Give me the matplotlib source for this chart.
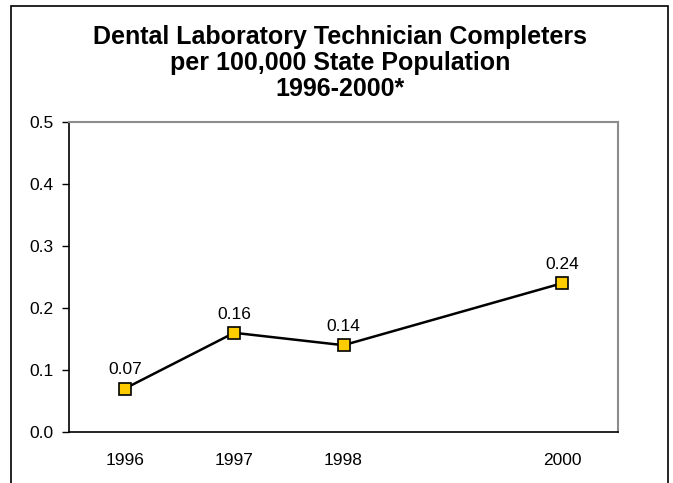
import matplotlib.pyplot as plt
from matplotlib.patches import Rectangle

years = [1996, 1997, 1998, 2000]
values = [0.07, 0.16, 0.14, 0.24]
value_labels = ["0.07", "0.16", "0.14", "0.24"]
y_ticks = [0.0, 0.1, 0.2, 0.3, 0.4, 0.5]

plt.rcParams['font.family'] = ['Liberation Sans', 'DejaVu Sans']

fig = plt.figure(figsize=(6.73, 4.83), dpi=100)
ax = fig.add_axes([69 / 673, 51 / 483, 549 / 673, 310 / 483])

# outer chart border (bottom edge runs off the picture)
fig.patches.append(Rectangle((11 / 673, -0.05), 657 / 673, (477 / 483) + 0.05,
                             transform=fig.transFigure, fill=False,
                             edgecolor='black', linewidth=1.2))

ax.plot(years, values, color='black', linewidth=1.8, marker='s', markersize=8,
        markerfacecolor='#FFCC00', markeredgecolor='black', markeredgewidth=1.2)

for x, y, lab in zip(years, values, value_labels):
    ax.annotate(lab, (x, y), xytext=(0, 8), textcoords='offset points',
                ha='center', va='bottom', fontsize=12.5)

ax.set_xlim(1995.49, 2000.51)
ax.set_ylim(0, 0.5)
ax.set_xticks(years)
ax.set_xticklabels([str(y) for y in years], fontsize=12.5)
ax.set_yticks(y_ticks)
ax.set_yticklabels([f"{v:.1f}" for v in y_ticks], fontsize=12.5)
ax.tick_params(axis='x', length=0, pad=15)
ax.tick_params(axis='y', length=5, width=1, pad=6, direction='out')

ax.spines['left'].set_color('black')
ax.spines['bottom'].set_color('black')
ax.spines['left'].set_linewidth(1.2)
ax.spines['bottom'].set_linewidth(1.2)
ax.spines['top'].set_color('#8c8c8c')
ax.spines['right'].set_color('#8c8c8c')
ax.spines['top'].set_linewidth(1.5)
ax.spines['right'].set_linewidth(1.5)

fig.text(340 / 673, 1 - 63 / 483,
         "Dental Laboratory Technician Completers\nper 100,000 State Population\n1996-2000*",
         ha='center', va='center', fontsize=18, fontweight='bold', linespacing=1.08)

fig.savefig("out.png", dpi=100)
